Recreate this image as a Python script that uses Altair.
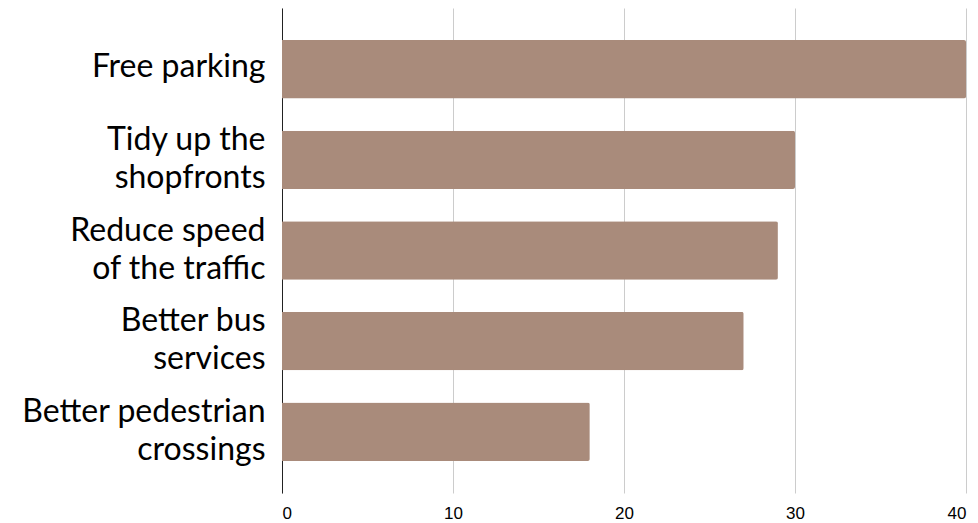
import altair as alt
import pandas as pd

categories = [
    "Free parking",
    "Tidy up the\nshopfronts",
    "Reduce speed\nof the traffic",
    "Better bus\nservices",
    "Better pedestrian\ncrossings",
]
values = [40, 30, 29, 27, 18]
x_ticks = [0, 10, 20, 30, 40]

df = pd.DataFrame({"category": categories, "value": values})

chart = (
    alt.Chart(df)
    .mark_bar(color="#a98b7b", cornerRadiusEnd=2)
    .encode(
        x=alt.X(
            "value:Q",
            scale=alt.Scale(domain=[0, 40], nice=False),
            axis=alt.Axis(
                values=x_ticks,
                title=None,
                domain=False,
                ticks=False,
                grid=True,
                gridColor="#cccccc",
                labelFont="Liberation Sans",
                labelFontSize=17,
                labelColor="#000000",
                labelPadding=12,
            ),
        ),
        y=alt.Y(
            "category:N",
            sort=None,
            scale=alt.Scale(paddingInner=0.355, paddingOuter=0.354),
            axis=alt.Axis(
                title=None,
                ticks=False,
                domain=True,
                domainColor="#222222",
                labelFont="Futura, Lato",
                labelFontSize=32,
                labelColor="#000000",
                labelPadding=17,
                labelLimit=400,
                labelLineHeight=38,
                labelExpr="split(datum.label, '\\n')",
                labelOffset={
                    "condition": {
                        "test": "indexof(datum.value, '\\n') >= 0",
                        "value": -20,
                    },
                    "value": -2,
                },
            ),
        ),
    )
    .properties(
        width=684,
        height=485,
        autosize=alt.AutoSizeParams(type="none"),
        padding={"left": 282, "top": 8, "right": 12, "bottom": 30},
    )
    .configure_view(stroke=None)
    .configure_axis(gridWidth=1)
)

chart.save("out.html", embed_options={"renderer": "svg", "actions": False})
